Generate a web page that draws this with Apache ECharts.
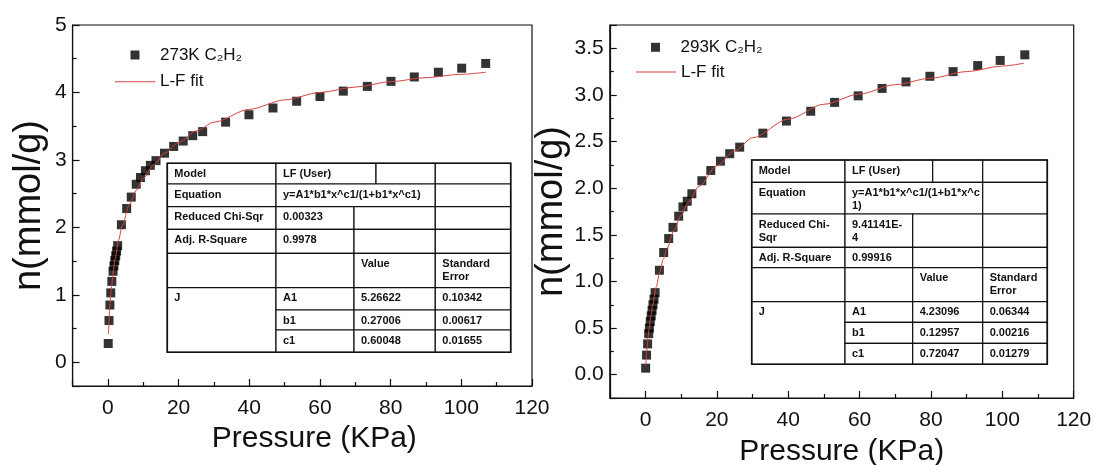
<!DOCTYPE html>
<html>
<head>
<meta charset="utf-8">
<script src="https://cdn.jsdelivr.net/npm/echarts@6/dist/echarts.min.js"></script>
<style>
html, body { margin: 0; padding: 0; background: #fff; }
#main { width: 1094px; height: 465px; }
</style>
</head>
<body>
<div id="main"></div>
<script>
// 273K C2H2 isotherm
var p273 = [0.08, 0.3, 0.55, 0.8, 1.1, 1.45, 1.7, 1.95, 2.2, 2.45, 2.75, 3.8, 5.3, 6.6, 8.0, 9.2, 10.6, 12.0, 13.6, 16.0,
    18.6, 21.3, 24.0, 26.8, 33.3, 39.9, 46.7, 53.4, 60.0, 66.6, 73.4, 80.1, 86.7, 93.5, 100.1, 106.9];
var n273 = [0.28, 0.62, 0.85, 1.03, 1.20, 1.35, 1.43, 1.51, 1.58, 1.65, 1.73, 2.04, 2.28, 2.45, 2.64, 2.74, 2.84, 2.92, 2.99, 3.10,
    3.20, 3.28, 3.36, 3.42, 3.56, 3.67, 3.77, 3.87, 3.94, 4.02, 4.09, 4.165, 4.23, 4.30, 4.36, 4.43];
var fitX273 = [0.15, 0.2, 0.3, 0.45, 0.6, 0.8, 1, 1.5, 2, 3, 4, 6, 8, 10, 13, 16, 20, 25, 30, 40, 50, 60, 70, 80, 90, 100, 107];
var fitY273 = [0.42, 0.49, 0.61, 0.755, 0.87, 1.005, 1.12, 1.35, 1.53, 1.81, 2.02, 2.33, 2.55, 2.73, 2.93, 3.10, 3.26, 3.43, 3.56,
    3.75, 3.89, 4.00, 4.08, 4.16, 4.22, 4.27, 4.30];

// 293K C2H2 isotherm
var p293 = [0.05, 0.3, 0.6, 0.9, 1.1, 1.35, 1.6, 1.85, 2.1, 2.4, 2.7, 3.9, 5.1, 6.5, 7.7, 9.3, 10.5, 11.7, 13.0, 15.8,
    18.3, 21.0, 23.6, 26.4, 32.9, 39.5, 46.3, 53.0, 59.6, 66.3, 73.0, 79.7, 86.2, 93.1, 99.4, 106.3];
var n293 = [0.07, 0.21, 0.33, 0.44, 0.50, 0.57, 0.63, 0.69, 0.75, 0.81, 0.88, 1.12, 1.31, 1.46, 1.58, 1.70, 1.80, 1.86, 1.94, 2.08,
    2.19, 2.29, 2.37, 2.44, 2.59, 2.72, 2.825, 2.92, 2.99, 3.07, 3.14, 3.20, 3.25, 3.315, 3.37, 3.43];
var fitX293 = [0.1, 0.2, 0.35, 0.5, 0.7, 1, 1.5, 2, 3, 4, 5, 6, 8, 10, 12, 15, 20, 25, 30, 40, 50, 60, 70, 80, 90, 100, 106];
var fitY293 = [0.10, 0.17, 0.24, 0.31, 0.39, 0.49, 0.63, 0.74, 0.94, 1.10, 1.24, 1.35, 1.55, 1.71, 1.85, 2.02, 2.24, 2.40, 2.54,
    2.74, 2.90, 3.01, 3.11, 3.18, 3.25, 3.31, 3.34];

// axis ranges
var xRange = [-10, 120];
var yRange273 = [-0.35, 5];
var yRange293 = [-0.25, 3.75];

// fit tables
var tblParams = ['A1', 'b1', 'c1'];
var tblValues273 = ['5.26622', '0.27006', '0.60048'];
var tblErrors273 = ['0.10342', '0.00617', '0.01655'];
var tblValues293 = ['4.23096', '0.12957', '0.72047'];
var tblErrors293 = ['0.06344', '0.00216', '0.01279'];

var FONT = 'Liberation Sans';
var GRID = [
    { left: 72.6, top: 25, width: 459.4, height: 361 },
    { left: 609.8, top: 25, width: 463.9, height: 373 }
];

function zip(a, b) {
    return a.map(function (v, i) { return [v, b[i]]; });
}

function tableCells(eq, chiLabel, chi, r2, values, errors) {
    var cells = [
        [0, 1, 0, 1, 'Model'], [1, 3, 0, 1, 'LF (User)'], [3, 4, 0, 1, ''], [4, 5, 0, 1, ''],
        [0, 1, 1, 2, 'Equation'], [1, 4, 1, 2, eq], [4, 5, 1, 2, ''],
        [0, 1, 2, 3, chiLabel], [1, 2, 2, 3, chi], [2, 4, 2, 3, ''], [4, 5, 2, 3, ''],
        [0, 1, 3, 4, 'Adj. R-Square'], [1, 2, 3, 4, r2], [2, 4, 3, 4, ''], [4, 5, 3, 4, ''],
        [0, 1, 4, 5, ''], [1, 2, 4, 5, ''], [2, 4, 4, 5, 'Value'], [4, 5, 4, 5, 'Standard\nError'],
        [0, 1, 5, 8, 'J']
    ];
    for (var i = 0; i < 3; i++) {
        cells.push([1, 2, 5 + i, 6 + i, tblParams[i]]);
        cells.push([2, 4, 5 + i, 6 + i, values[i]]);
        cells.push([4, 5, 5 + i, 6 + i, errors[i]]);
    }
    return cells;
}

function drawTable(cols, rows, cells) {
    var els = [];
    cells.forEach(function (c) {
        var x0 = cols[c[0]], x1 = cols[c[1]], y0 = rows[c[2]], y1 = rows[c[3]];
        els.push({
            type: 'rect', z: 100,
            shape: { x: x0, y: y0, width: x1 - x0, height: y1 - y0 },
            style: { fill: '#fff', stroke: '#111', lineWidth: 1.2 }
        });
        if (c[4]) {
            els.push({
                type: 'text', z: 101, x: x0 + 7, y: y0 + 4,
                style: {
                    text: c[4], fill: '#111', fontFamily: FONT, fontSize: 11, fontWeight: 'bold',
                    lineHeight: 13, verticalAlign: 'top'
                }
            });
        }
    });
    var last = cols.length - 1, lastR = rows.length - 1;
    els.push({
        type: 'rect', z: 102,
        shape: { x: cols[0], y: rows[0], width: cols[last] - cols[0], height: rows[lastR] - rows[0] },
        style: { fill: 'none', stroke: '#111', lineWidth: 1.6 }
    });
    return els;
}

// labelled axis: line, labels and name, no ticks
function xAxis(gi, gap, pad) {
    return {
        type: 'value', gridIndex: gi, position: 'bottom', min: xRange[0], max: xRange[1], splitNumber: 6,
        axisLine: { show: true, onZero: false, lineStyle: { color: '#111', width: 1.2 } },
        axisTick: { show: false },
        minorTick: { show: false },
        axisLabel: { showMinLabel: false, fontSize: 21, color: '#111', fontFamily: FONT, margin: 12 },
        splitLine: { show: false },
        name: 'Pressure (KPa)', nameLocation: 'middle', nameGap: gap,
        nameTextStyle: { fontSize: 30, color: '#111', fontFamily: FONT, padding: pad }
    };
}

// tick-only axis placed on the opposite side and shifted onto the bottom edge,
// so its outward ticks point up into the plot
function xTickAxis(gi) {
    return {
        type: 'value', gridIndex: gi, position: 'top', offset: -GRID[gi].height,
        min: xRange[0], max: xRange[1], splitNumber: 6,
        axisLine: { show: false, onZero: false },
        axisTick: { show: true, length: 7, lineStyle: { color: '#111', width: 1.2 } },
        minorTick: { show: true, splitNumber: 2, length: 4, lineStyle: { color: '#111', width: 1.2 } },
        axisLabel: { show: false },
        splitLine: { show: false }
    };
}

function yAxis(gi, range, split, digits, showMax, gap) {
    return {
        type: 'value', gridIndex: gi, position: 'left', min: range[0], max: range[1], splitNumber: split,
        axisLine: { show: true, onZero: false, lineStyle: { color: '#111', width: 1.2 } },
        axisTick: { show: false },
        minorTick: { show: false },
        axisLabel: {
            showMinLabel: false, showMaxLabel: showMax, fontSize: 21, color: '#111', fontFamily: FONT, margin: 6,
            formatter: function (v) { return v.toFixed(digits); }
        },
        splitLine: { show: false },
        name: 'n(mmol/g)', nameLocation: 'middle', nameGap: gap,
        nameTextStyle: { fontSize: 38, color: '#111', fontFamily: FONT }
    };
}

function yTickAxis(gi, range, split) {
    return {
        type: 'value', gridIndex: gi, position: 'right', offset: -GRID[gi].width,
        min: range[0], max: range[1], splitNumber: split,
        axisLine: { show: false, onZero: false },
        axisTick: { show: true, length: 7, lineStyle: { color: '#111', width: 1.2 } },
        minorTick: { show: true, splitNumber: 2, length: 4, lineStyle: { color: '#111', width: 1.2 } },
        axisLabel: { show: false },
        splitLine: { show: false }
    };
}

function Isotherms() {
    var cells273 = tableCells('y=A1*b1*x^c1/(1+b1*x^c1)', 'Reduced Chi-Sqr', '0.00323', '0.9978', tblValues273, tblErrors273);
    var cells293 = tableCells('y=A1*b1*x^c1/(1+b1*x^c\n1)', 'Reduced Chi-\nSqr', '9.41141E-\n4', '0.99916', tblValues293, tblErrors293);
    var graphics = drawTable([167.3, 276, 354, 376, 435.3, 510.7],
        [163.3, 184, 206.7, 229.3, 253.3, 287.7, 310, 330, 352.3], cells273)
        .concat(drawTable([751.7, 845, 912.7, 932.7, 982.7, 1047.3],
            [160, 182.3, 214, 247.3, 267.7, 301.7, 322.3, 343.3, 364.3], cells293));

    var legendText = { fontSize: 17, color: '#111', fontFamily: FONT, lineHeight: 18 };
    var square = 'path://M0,0H10V10H0Z';
    var dash = 'path://M0,0H40V1H0Z';

    var option = {
        animation: false,
        backgroundColor: '#fff',
        grid: GRID.map(function (g) {
            return {
                left: g.left, top: g.top, width: g.width, height: g.height, outerBoundsMode: 'none', containLabel: false,
                show: true, borderColor: '#111', borderWidth: 1.2, backgroundColor: 'transparent'
            };
        }),
        legend: [
            { data: ['273K C₂H₂'], left: 130.5, top: 46, padding: 0, itemWidth: 40, itemHeight: 9, icon: square, selectedMode: false, textStyle: legendText },
            { data: ['L-F fit'], left: 115, top: 72.7, padding: 0, itemWidth: 40, itemHeight: 9, icon: dash, selectedMode: false, textStyle: legendText },
            { data: ['293K C₂H₂'], left: 651, top: 38.3, padding: 0, itemWidth: 40, itemHeight: 9, icon: square, selectedMode: false, textStyle: legendText },
            { data: ['L-F fit'], left: 636, top: 63, padding: 0, itemWidth: 40, itemHeight: 9, icon: dash, selectedMode: false, textStyle: legendText }
        ],
        xAxis: [xAxis(0, 36, [0, 0, 0, 24]), xTickAxis(0), xAxis(1, 39, 0), xTickAxis(1)],
        yAxis: [yAxis(0, yRange273, 5, 0, true, 24), yTickAxis(0, yRange273, 5),
            yAxis(1, yRange293, 8, 1, false, 28), yTickAxis(1, yRange293, 8)],
        series: [{
            name: '273K C₂H₂', type: 'scatter', xAxisIndex: 0, yAxisIndex: 0,
            data: zip(p273, n273), symbol: 'rect', symbolSize: 9,
            itemStyle: { color: '#000' }, z: 2
        }, {
            name: 'L-F fit', type: 'line', xAxisIndex: 0, yAxisIndex: 0,
            data: zip(fitX273, fitY273), symbol: 'none', smooth: 0.3, smoothMonotone: 'x',
            lineStyle: { color: '#d8433f', width: 1 }, itemStyle: { color: '#d8433f' }, z: 3
        }, {
            name: '293K C₂H₂', type: 'scatter', xAxisIndex: 2, yAxisIndex: 2,
            data: zip(p293, n293), symbol: 'rect', symbolSize: 9,
            itemStyle: { color: '#000' }, z: 2
        }, {
            name: 'L-F fit', type: 'line', xAxisIndex: 2, yAxisIndex: 2,
            data: zip(fitX293, fitY293), symbol: 'none', smooth: 0.3, smoothMonotone: 'x',
            lineStyle: { color: '#d8433f', width: 1 }, itemStyle: { color: '#d8433f' }, z: 3
        }],
        graphic: graphics
    };
    var myChart = echarts.init(document.querySelector('#main'));
    myChart.setOption(option);
}

Isotherms();
</script>
</body>
</html>
